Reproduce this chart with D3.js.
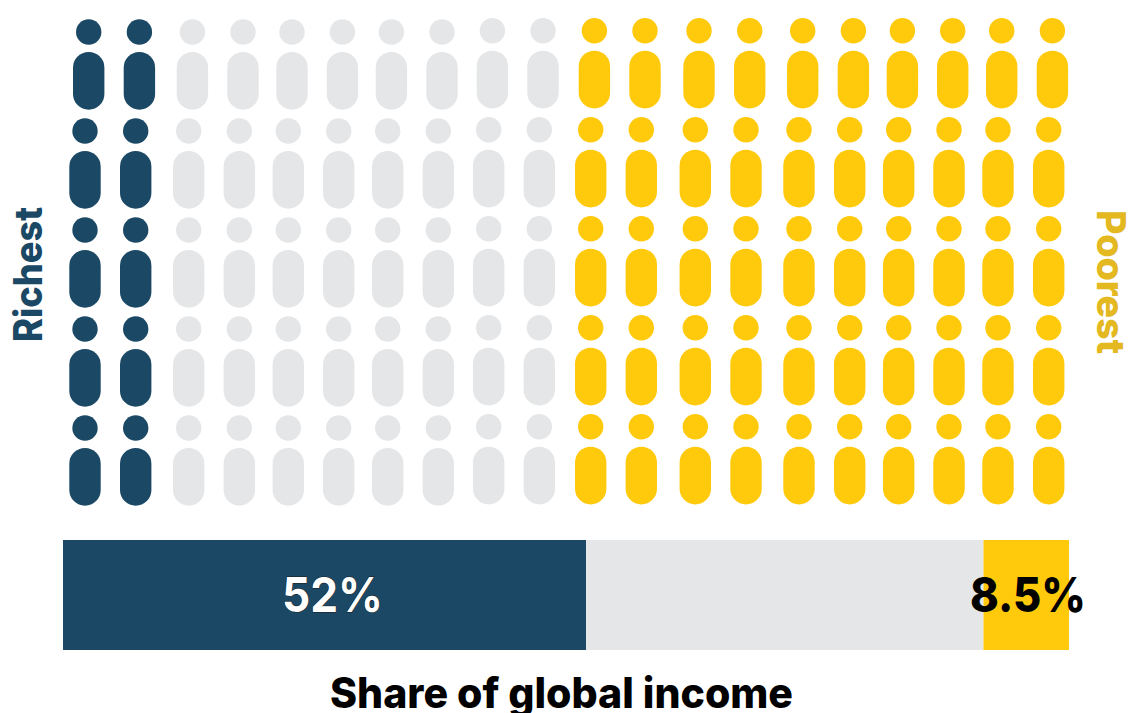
<!DOCTYPE html>
<html>
<head>
<meta charset="utf-8">
<script src="https://cdn.jsdelivr.net/npm/d3@7"></script>
<style>
  html, body { margin: 0; padding: 0; background: #fff; }
  svg { display: block; }
  text { font-family: Inter, Lato, "Noto Sans", sans-serif; }
</style>
</head>
<body>
<svg id="chart" width="1128" height="713"></svg>
<script>
// Income groups, left to right across the population
const groups = ["Richest", "Middle", "Poorest"];
const populationShare = [10, 40, 50];
const incomeShare = [52, 39.5, 8.5];
const shareLabels = ["52%", "", "8.5%"];
const axisTitle = "Share of global income";

const peopleColumns = 20;
const peopleRows = 5;

const colors = d3.scaleOrdinal().domain(groups).range(["#1b4965", "#e5e6e8", "#ffc90c"]);

// Layout
const width = 1128, height = 713;
const svg = d3.select("#chart").attr("viewBox", [0, 0, width, height]);

const barX = d3.scaleLinear().domain([0, 100]).range([63, 1069]);
const barTop = 540, barHeight = 110;

// Columns sit in loose clusters; the drift adds to the regular pitch
const columnDrift = [0, 0.7, 3.7, 4.3, 3.3, 3.7, 2.7, 3.3, 3.7, 4.3, 5.7, 6.3, 10.3, 11, 14, 14.7, 13.7, 14, 13, 13.7];
const colX = d3.scaleLinear().domain([0, peopleColumns - 1]).range([85, 1035]);
const rowY = d3.scaleLinear().domain([0, peopleRows - 1]).range([32, 428]);
const topRowShift = 3.7;
const raisedFromColumn = 8, raisedBy = 1.3;
const headR = 12.7, bodyW = 31.4, bodyH = 57.7, bodyGap = 20;

// Each column belongs to a group according to its cumulative population share
const cumulative = Array.from(d3.cumsum(populationShare));
const groupOfColumn = c => {
  const pct = (c + 0.5) / peopleColumns * 100;
  return groups[d3.bisectLeft(cumulative, pct)];
};

const people = d3.cross(d3.range(peopleRows), d3.range(peopleColumns), (row, col) => ({
  row, col, group: groupOfColumn(col)
}));

const person = svg.append("g").selectAll("g").data(people).join("g")
  .attr("fill", d => colors(d.group))
  .attr("transform", d => {
    const x = colX(d.col) + columnDrift[d.col] + (d.row === 0 ? topRowShift : 0);
    const y = rowY(d.row) - (d.col >= raisedFromColumn ? raisedBy : 0);
    return `translate(${x},${y})`;
  });

person.append("circle").attr("r", headR);
person.append("rect")
  .attr("x", -bodyW / 2).attr("y", bodyGap)
  .attr("width", bodyW).attr("height", bodyH)
  .attr("rx", bodyW / 2).attr("ry", bodyW / 2);

// Stacked income bar
const stackStart = [0, ...d3.cumsum(incomeShare)];

svg.append("g").selectAll("rect").data(groups).join("rect")
  .attr("x", (d, i) => barX(stackStart[i]))
  .attr("y", barTop)
  .attr("width", (d, i) => barX(stackStart[i + 1]) - barX(stackStart[i]))
  .attr("height", barHeight)
  .attr("fill", d => colors(d));

// Value labels
svg.append("text")
  .attr("x", 332.5).attr("y", 611.5)
  .attr("text-anchor", "middle")
  .attr("font-size", 48).attr("font-weight", 700)
  .attr("textLength", 101).attr("lengthAdjust", "spacingAndGlyphs")
  .attr("fill", "#fff").attr("stroke", "#1a1a1a").attr("stroke-width", 1)
  .attr("paint-order", "stroke")
  .text(shareLabels[0]);

svg.append("text")
  .attr("x", 1028).attr("y", 611.5)
  .attr("text-anchor", "middle")
  .attr("font-size", 48).attr("font-weight", 800)
  .attr("textLength", 116).attr("lengthAdjust", "spacingAndGlyphs")
  .attr("fill", "#000")
  .text(shareLabels[2]);

// Bar title
svg.append("text")
  .attr("x", 561.5).attr("y", 707.5)
  .attr("text-anchor", "middle")
  .attr("font-size", 42).attr("font-weight", 800)
  .attr("textLength", 463).attr("lengthAdjust", "spacingAndGlyphs")
  .attr("fill", "#000")
  .text(axisTitle);

// Side labels for the two ends of the population
svg.append("text")
  .attr("transform", "translate(42,274.5) rotate(-90)")
  .attr("text-anchor", "middle")
  .attr("font-size", 39).attr("font-weight", 800)
  .attr("textLength", 135).attr("lengthAdjust", "spacingAndGlyphs")
  .attr("fill", colors("Richest"))
  .text(groups[0]);

svg.append("text")
  .attr("transform", "translate(1097,282) rotate(90)")
  .attr("text-anchor", "middle")
  .attr("font-size", 39).attr("font-weight", 800)
  .attr("textLength", 144).attr("lengthAdjust", "spacingAndGlyphs")
  .attr("fill", "#e3b820")
  .text(groups[2]);
</script>
</body>
</html>
